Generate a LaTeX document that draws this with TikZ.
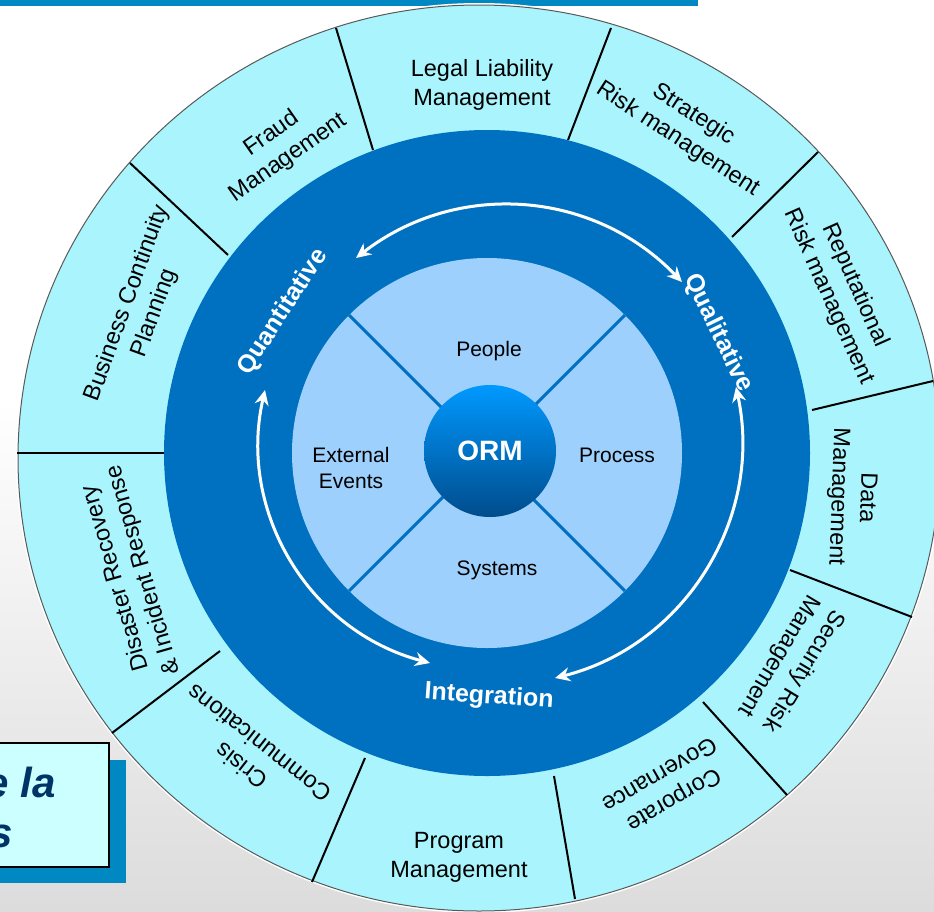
\documentclass[tikz,border=0pt]{standalone}
\usepackage{fontspec}
\setmainfont{Liberation Sans}
\usetikzlibrary{arrows.meta}

\definecolor{barblue}{HTML}{0088C2}
\definecolor{segfill}{HTML}{AAF5FD}
\definecolor{ringblue}{HTML}{0070C0}
\definecolor{corefill}{HTML}{9DD0FC}
\definecolor{ormtop}{HTML}{0099FF}
\definecolor{ormbottom}{HTML}{004C8C}
\definecolor{boxfill}{HTML}{CCFFFF}
\definecolor{boxtext}{HTML}{003366}
\definecolor{backgray}{HTML}{DCDCDC}

\tikzset{
    seglabel/.style={font=\fontsize{23.5}{29}\selectfont, align=center},
    corelabel/.style={font=\fontsize{21}{26}\selectfont, align=center},
    ringlabel/.style={font=\bfseries\fontsize{25}{30}\selectfont, text=white},
    divider/.style={black, line width=2pt},
    loopline/.style={white, line width=3pt, {Stealth[length=15pt, width=14pt]}-{Stealth[length=15pt, width=14pt]}},
    boxlabel/.style={text=boxtext, inner sep=0pt, font=\bfseries\itshape\fontsize{42}{50}\selectfont}
}

\begin{document}
\begin{tikzpicture}[x=1pt, y=-1pt]
    \useasboundingbox (0,0) rectangle (934,911);
    \clip (0,0) rectangle (934,911);

    % draw the background
    \fill[white] (0,0) rectangle (934,911);
    \shade[top color=white, bottom color=backgray] (0,400) rectangle (934,911);

    % draw the bar on top
    \fill[barblue] (0,0) rectangle (698,6);

    % draw the box in the corner
    \fill[barblue] (-10,760) rectangle (126,883);
    \draw[fill=boxfill, line width=1.5pt] (-10,743) rectangle (109,867);
    \node[boxlabel, anchor=base east] (boxtop) at (56,797) {e la};
    \node[boxlabel, anchor=base east] (boxbottom) at (13,847) {s};

    % draw the outer ring
    \draw[white, line width=4pt] (479,458) ellipse [x radius=461, y radius=453];
    \filldraw[fill=segfill, draw=black!65, line width=1pt] (479,458) ellipse [x radius=461, y radius=453];

    % draw the dividers between the segments
    \draw[divider] (336,28) -- (373,150);
    \draw[divider] (611,28) -- (568,140);
    \draw[divider] (818,152) -- (732,237);
    \draw[divider] (933,381) -- (812,410);
    \draw[divider] (912,617) -- (790,570);
    \draw[divider] (787,795) -- (703,702);
    \draw[divider] (575,899) -- (554,776);
    \draw[divider] (312,882) -- (365,758);
    \draw[divider] (112,733) -- (220,651);
    \draw[divider] (17,453) -- (164,453);
    \draw[divider] (130,163) -- (228,255);

    % draw the labels of the segments
    \node[seglabel] (legal) at (482,85) {Legal Liability\\Management};
    \node[seglabel, rotate=-33] (strategic) at (686,127) {Strategic\\Risk management};
    \node[seglabel, rotate=-66] (reputational) at (842,291) {Reputational\\Risk management};
    \node[seglabel, rotate=-92] (data) at (852,497) {Data\\Management};
    \node[seglabel, rotate=-121] (security) at (791,663) {Security Risk\\Management};
    \node[seglabel, rotate=-150] (corporate) at (667,788) {Corporate\\Governance};
    \node[seglabel] (program) at (459,857) {Program\\Management};
    \node[seglabel, rotate=142] (crisis) at (250,755) {Crisis\\Communications};
    \node[seglabel, rotate=106] (disaster) at (130,574) {Disaster Recovery\\\& Incident Response};
    \node[seglabel, rotate=70] (continuity) at (141,308) {Business Continuity\\Planning};
    \node[seglabel, rotate=35] (fraud) at (280,146) {Fraud\\Management};

    % draw the blue ring and the core
    \node[circle, fill=ringblue, minimum size=646pt, outer sep=0pt] (ring) at (487,453) {};
    \node[circle, fill=corefill, minimum size=390pt, outer sep=0pt] (core) at (487,453) {};
    \draw[ringblue, line width=3pt] (core.north west) -- (core.south east);
    \draw[ringblue, line width=3pt] (core.north east) -- (core.south west);

    % draw the ORM circle
    \node[circle, top color=ormtop, bottom color=ormbottom, minimum size=132pt, text=white,
        font=\bfseries\fontsize{28}{32}\selectfont] (orm) at (490,451) {ORM};

    % draw the labels of the core
    \node[corelabel] (people) at (489,351) {People};
    \node[corelabel] (process) at (617,455) {Process};
    \node[corelabel] (systems) at (497,570) {Systems};
    \node[corelabel] (external) at (351,468) {External\\Events};

    % draw the labels of the blue ring
    \node[ringlabel, rotate=57] (quant) at (283,312) {Quantitative};
    \node[ringlabel, rotate=-64] (qual) at (718,333) {Qualitative};
    \node[ringlabel, rotate=-4] (integ) at (489,697) {Integration};

    % draw the arrows round the core
    \coordinate (topleft) at (356,258);
    \coordinate (topright) at (682,282);
    \coordinate (leftup) at (265,390);
    \coordinate (leftdown) at (430,663);
    \coordinate (rightup) at (736,387);
    \coordinate (rightdown) at (555,678);
    \draw[loopline] (topleft) to[bend left=42] (topright);
    \draw[loopline] (leftup) to[bend right=44] (leftdown);
    \draw[loopline] (rightup) to[bend left=44] (rightdown);
\end{tikzpicture}
\end{document}
